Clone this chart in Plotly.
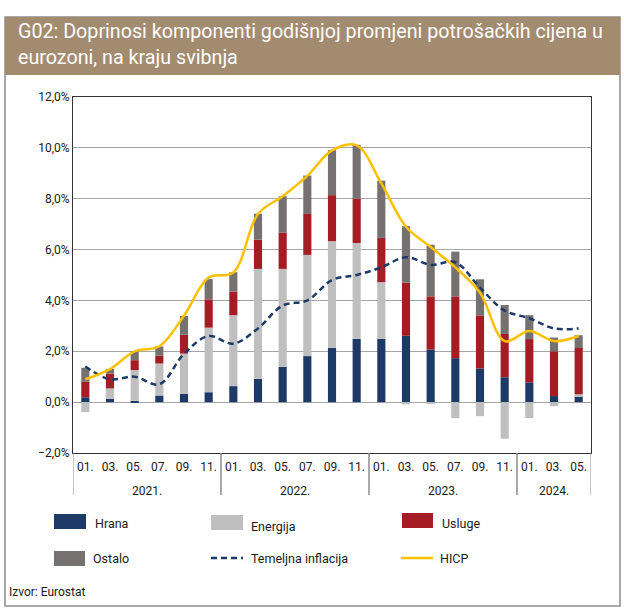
import plotly.graph_objects as go

# ---- data ----
years = ["2021."] * 6 + ["2022."] * 6 + ["2023."] * 6 + ["2024."] * 3
months = ["01.", "03.", "05.", "07.", "09.", "11."] * 3 + ["01.", "03.", "05."]
year_labels = ["2021.", "2022.", "2023.", "2024."]

hrana = [0.19, 0.13, 0.05, 0.26, 0.32, 0.39,
         0.63, 0.92, 1.39, 1.81, 2.14, 2.49,
         2.49, 2.61, 2.07, 1.73, 1.32, 0.98,
         0.78, 0.24, 0.24]
energija = [-0.39, 0.41, 1.21, 1.26, 1.59, 2.54,
            2.79, 4.32, 3.85, 3.98, 4.19, 3.77,
            2.23, -0.09, -0.08, -0.63, -0.55, -1.44,
            -0.63, -0.16, 0.07]
usluge = [0.61, 0.58, 0.39, 0.31, 0.74, 1.11,
          0.93, 1.15, 1.42, 1.61, 1.81, 1.74,
          1.74, 2.09, 2.09, 2.43, 2.09, 1.70,
          1.70, 1.76, 1.82]
ostalo = [0.55, 0.19, 0.35, 0.36, 0.74, 0.80,
          0.76, 1.02, 1.44, 1.51, 1.77, 2.12,
          2.25, 2.22, 2.03, 1.76, 1.42, 1.14,
          0.94, 0.54, 0.50]
temeljna = [1.4, 0.9, 1.0, 0.7, 1.9, 2.6,
            2.3, 2.9, 3.8, 4.0, 4.8, 5.0,
            5.3, 5.7, 5.4, 5.5, 4.5, 3.6,
            3.3, 2.9, 2.9]
hicp = [0.9, 1.3, 2.0, 2.2, 3.4, 4.9,
        5.1, 7.4, 8.1, 8.9, 9.9, 10.1,
        8.6, 6.9, 6.1, 5.3, 4.3, 2.4,
        2.8, 2.4, 2.6]

series_names = ["Hrana", "Energija", "Usluge", "Ostalo"]
C_NAVY = "#1D3A67"
C_LGRAY = "#BFBFBF"
C_RED = "#A51C24"
C_DGRAY = "#767171"
C_YELLOW = "#FFC000"
FONT = "Roboto, 'Open Sans', sans-serif"

W, H = 624, 611
L, R, T, B = 73, 591, 97, 453

cats = [y + m for y, m in zip(years, months)]

fig = go.Figure()
for name, vals, col in zip(series_names, [hrana, energija, usluge, ostalo],
                           [C_NAVY, C_LGRAY, C_RED, C_DGRAY]):
    fig.add_trace(go.Bar(x=cats, y=vals, name=name, marker=dict(color=col, line_width=0),
                         showlegend=False))

fig.add_trace(go.Scatter(x=cats, y=temeljna, mode="lines", name="Temeljna inflacija",
                         line=dict(color=C_NAVY, width=2.5, dash="6px,4px", shape="spline", smoothing=1),
                         showlegend=False))
fig.add_trace(go.Scatter(x=cats, y=hicp, mode="lines", name="HICP",
                         line=dict(color=C_YELLOW, width=2.5, shape="spline", smoothing=1),
                         showlegend=False))


def px(xp):
    return (xp - L) / (R - L)


def py(yp):
    return (B - yp) / (B - T)


shapes = []
annotations = []
# outer frame
shapes.append(dict(type="rect", xref="paper", yref="paper", x0=px(5), x1=px(620), y0=py(606), y1=py(17),
                   line=dict(color="#8C8C8C", width=1.5), fillcolor="rgba(0,0,0,0)", layer="below"))
# title banner
shapes.append(dict(type="rect", xref="paper", yref="paper", x0=px(5), x1=px(620), y0=py(75), y1=py(17),
                   line=dict(width=0), fillcolor="#A38B70", layer="below"))
annotations.append(dict(xref="paper", yref="paper", x=px(16), y=py(18), xanchor="left", yanchor="top",
                        text="G02: Doprinosi komponenti godišnjoj promjeni potrošačkih cijena u<br>eurozoni, na kraju svibnja",
                        showarrow=False, align="left",
                        font=dict(family=FONT, size=19.7, color="white")))

# year groups: labels and dividers below the axis
groups = []
for i, yl in enumerate(years):
    if not groups or groups[-1][0] != yl:
        groups.append([yl, i, i])
    else:
        groups[-1][2] = i
for yl, i0, i1 in groups:
    annotations.append(dict(xref="x", yref="paper", x=(i0 + i1) / 2, y=py(491), xanchor="center",
                            yanchor="middle", text=yl, showarrow=False,
                            font=dict(family=FONT, size=12, color="#1a1a1a")))
    for xb in (i0 - 0.5, i1 + 0.5):
        shapes.append(dict(type="line", xref="x", yref="paper", x0=xb, x1=xb, y0=py(453), y1=py(495),
                           line=dict(color="#8C8C8C", width=1)))


# legend
def rect_item(x0, x1, y0, y1, col, label, tx, ty):
    shapes.append(dict(type="rect", xref="paper", yref="paper", x0=px(x0), x1=px(x1), y0=py(y1), y1=py(y0),
                       line=dict(width=0), fillcolor=col))
    annotations.append(dict(xref="paper", yref="paper", x=px(tx), y=py(ty), xanchor="left", yanchor="middle",
                            text=label, showarrow=False, font=dict(family=FONT, size=12.5, color="#1a1a1a")))


def line_item(x0, x1, yy, col, dash, label, tx, ty):
    shapes.append(dict(type="line", xref="paper", yref="paper", x0=px(x0), x1=px(x1), y0=py(yy), y1=py(yy),
                       line=dict(color=col, width=2.5, dash=dash)))
    annotations.append(dict(xref="paper", yref="paper", x=px(tx), y=py(ty), xanchor="left", yanchor="middle",
                            text=label, showarrow=False, font=dict(family=FONT, size=12.5, color="#1a1a1a")))


rect_item(54, 86, 514, 529, C_NAVY, "Hrana", 93, 523)
rect_item(211, 243, 515, 530, C_LGRAY, "Energija", 249, 526)
rect_item(402, 433, 513, 528, C_RED, "Usluge", 440, 523)
rect_item(54, 85, 551, 566, C_DGRAY, "Ostalo", 91, 558)
line_item(211, 243, 558, C_NAVY, "6px,4px", "Temeljna inflacija", 249, 558)
line_item(401, 433, 558, C_YELLOW, "solid", "HICP", 438, 558)
annotations.append(dict(xref="paper", yref="paper", x=px(7), y=py(592), xanchor="left", yanchor="middle",
                        text="Izvor: Eurostat", showarrow=False,
                        font=dict(family=FONT, size=12, color="#1a1a1a")))

fig.update_layout(
    width=W, height=H,
    margin=dict(l=L, r=W - R, t=T, b=H - B, autoexpand=False),
    paper_bgcolor="white", plot_bgcolor="white",
    barmode="relative", bargap=0.67,
    separators=",.",
    font=dict(family=FONT, size=12, color="#1a1a1a"),
    shapes=shapes, annotations=annotations,
    showlegend=False,
)
fig.update_yaxes(range=[-2, 12], dtick=2, tickformat=".1f", ticksuffix="%",
                 showgrid=True, gridcolor="#A6A6A6", gridwidth=1,
                 zeroline=False, showline=True, linecolor="#333333", linewidth=1, mirror=True,
                 ticks="", tickfont=dict(size=12))
fig.update_xaxes(type="category", tickmode="array", tickvals=cats, ticktext=months,
                 range=[-0.5, len(cats) - 0.5],
                 showline=True, linecolor="#333333", linewidth=1, mirror=True,
                 ticks="", ticklabelstandoff=3, tickfont=dict(size=12), showgrid=False)

fig.write_html("out.html", config={"displayModeBar": False},
               post_script="document.body.style.margin='0';")
